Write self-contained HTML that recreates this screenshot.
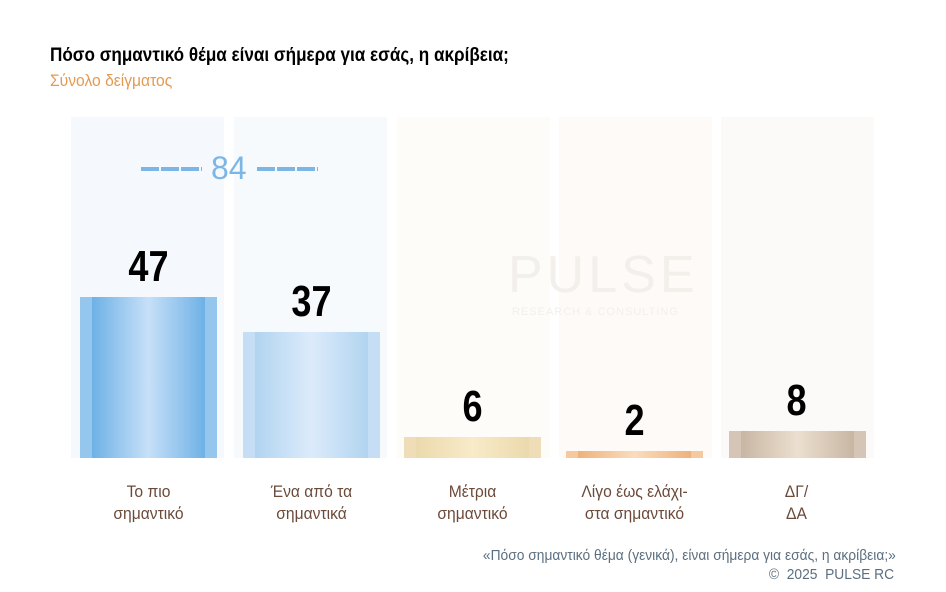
<!DOCTYPE html>
<html><head><meta charset="utf-8"><style>
body{margin:0;width:946px;height:592px;background:#fff;position:relative;overflow:hidden;font-family:"Liberation Sans",sans-serif}
.a{position:absolute}
.col{position:absolute;top:117px;height:341px;width:153px}
.bar{position:absolute;width:137px;bottom:134px}
.v{position:absolute;width:153px;text-align:center;font-weight:bold;font-size:44px;color:#000;transform:scaleX(0.82)}
.l{position:absolute;width:153px;text-align:center;font-size:17px;color:#6b4a3a;line-height:22px;transform:scaleX(0.92)}
.d{position:absolute;top:167px;height:4px;width:61px;background:repeating-linear-gradient(90deg,#7cb6e6 0 18px,transparent 18px 20px)}
</style></head><body>
<div class="a" style="left:50px;top:45px;font-size:19px;font-weight:bold;color:#000;transform:scaleX(0.9);transform-origin:left">Πόσο σημαντικό θέμα είναι σήμερα για εσάς, η ακρίβεια;</div>
<div class="a" style="left:50px;top:71px;font-size:17px;color:#e39a52;transform:scaleX(0.92);transform-origin:left">Σύνολο δείγματος</div>

<div class="col" style="left:71px;background:#f5f9fd"></div>
<div class="col" style="left:234px;background:#f7fafd"></div>
<div class="col" style="left:397px;background:#fefcf9"></div>
<div class="col" style="left:559px;background:#fefaf7"></div>
<div class="col" style="left:721px;background:#fbfaf9"></div>

<div class="a" style="left:508px;top:245px;font-size:52px;color:#f3efeb;letter-spacing:4px">PULSE</div>
<div class="a" style="left:512px;top:306px;font-size:11px;color:#f3efeb;letter-spacing:1px">RESEARCH &amp; CONSULTING</div>

<div class="d" style="left:141px"></div>
<div class="d" style="left:257px"></div>
<div class="a" style="left:211px;top:150px;font-size:32px;color:#7cb6e6">84</div>

<div class="bar" style="left:80px;top:297px;height:161px;background:linear-gradient(90deg,#95c6ee 0 12px,#6eb1e6 12px,#c7e0f8 50%,#6eb1e6 calc(100% - 12px),#95c6ee calc(100% - 12px))"></div>
<div class="bar" style="left:243px;top:332px;height:126px;background:linear-gradient(90deg,#c5def5 0 12px,#b1d4f0 12px,#dcebfb 50%,#b1d4f0 calc(100% - 12px),#c5def5 calc(100% - 12px))"></div>
<div class="bar" style="left:404px;top:437px;height:21px;background:linear-gradient(90deg,#eeddb7 0 12px,#ecd9ad 12px,#f8ebc9 50%,#ecd9ad calc(100% - 12px),#eeddb7 calc(100% - 12px))"></div>
<div class="bar" style="left:566px;top:451px;height:7px;background:linear-gradient(90deg,#f4c9a0 0 12px,#eeb27b 12px,#fbdcbd 50%,#eeb27b calc(100% - 12px),#f4c9a0 calc(100% - 12px))"></div>
<div class="bar" style="left:729px;top:431px;height:27px;background:linear-gradient(90deg,#d4c5b6 0 12px,#c8b6a3 12px,#ecdfcf 50%,#c8b6a3 calc(100% - 12px),#d4c5b6 calc(100% - 12px))"></div>

<div class="v" style="left:72px;top:242px">47</div>
<div class="v" style="left:235px;top:277px">37</div>
<div class="v" style="left:396px;top:382px">6</div>
<div class="v" style="left:558px;top:396px">2</div>
<div class="v" style="left:720px;top:376px">8</div>

<div class="l" style="left:72px;top:481px">Το πιο<br>σημαντικό</div>
<div class="l" style="left:235px;top:481px">Ένα από τα<br>σημαντικά</div>
<div class="l" style="left:396px;top:481px">Μέτρια<br>σημαντικό</div>
<div class="l" style="left:558px;top:481px">Λίγο έως ελάχι-<br>στα σημαντικό</div>
<div class="l" style="left:720px;top:481px">ΔΓ/<br>ΔΑ</div>

<div class="a" style="right:50px;top:547px;font-size:15px;color:#5b6f80;transform:scaleX(0.92);transform-origin:right">«Πόσο σημαντικό θέμα (γενικά), είναι σήμερα για εσάς, η ακρίβεια;»</div>
<div class="a" style="right:52px;top:566px;font-size:15px;color:#5b6f80;transform:scaleX(0.92);transform-origin:right">©&nbsp; 2025&nbsp; PULSE RC</div>
</body></html>
